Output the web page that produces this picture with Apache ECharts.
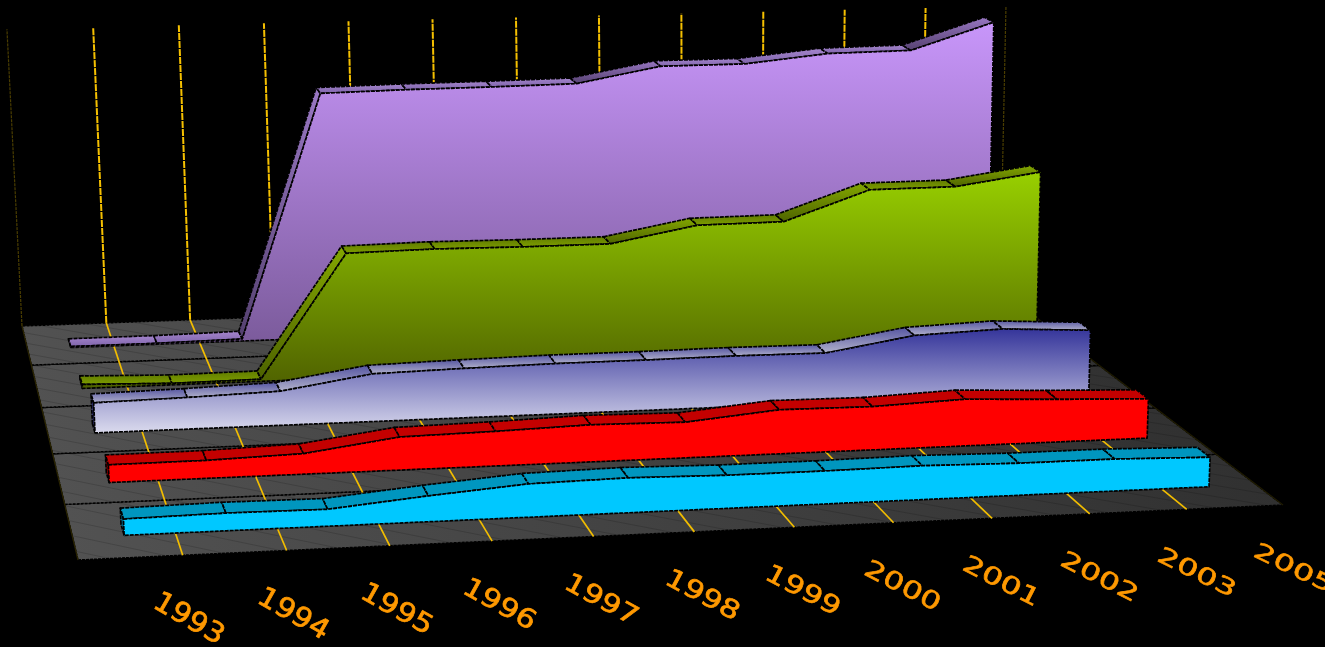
<!DOCTYPE html>
<html><head><meta charset="utf-8">
<style>html,body{margin:0;padding:0;background:#000}#c{width:1325px;height:647px}</style>
<script src="https://cdn.jsdelivr.net/npm/echarts@6/dist/echarts.min.js"></script>
</head><body><div id="c"></div>
<script>
// ---- data ----
const years = ['1993','1994','1995','1996','1997','1998','1999','2000','2001','2002','2003','2005'];
const cyanValues     = [4.7,5.1,4.9,7.5,9.7,10.2,9.7,9.7,10,9.5,9.5,8.8];
const redValues      = [5.3,5.4,6.2,10,10.5,11.3,10.9,13.5,13.3,14.4,13.2,12.2];
const lavenderValues = [9.4,9.9,10.7,15,15.6,16,16,16.2,16,20.5,21.5,20];
const greenValues    = [1.3,0.5,0.7,40.6,41,40.7,40.7,45.8,46,55.5,55.6,59.5];
const purpleValues   = [0.3,0.3,0.7,82,82.4,82.5,82.8,87.8,87.8,90.5,90.8,99.5];

// ---- camera: flat axis space (u, depth, w) -> picture ----
const floorCorners = [[78,560],[1283,505],[1000,290],[22,326]];
const poleTops = [[7,30],[1006,5]];
function camera(){
  const [p0,p1,p2,p3]=floorCorners;
  const dx1=p1[0]-p2[0],dx2=p3[0]-p2[0],sx=p0[0]-p1[0]+p2[0]-p3[0];
  const dy1=p1[1]-p2[1],dy2=p3[1]-p2[1],sy=p0[1]-p1[1]+p2[1]-p3[1];
  const den=dx1*dy2-dx2*dy1;
  const g=(sx*dy2-dx2*sy)/den,h=(dx1*sy-sx*dy1)/den;
  const a=p1[0]-p0[0]+g*p1[0],b=p3[0]-p0[0]+h*p3[0],tx=p0[0];
  const d=p1[1]-p0[1]+g*p1[1],e=p3[1]-p0[1]+h*p3[1],ty=p0[1];
  const A=(u,v,x,nx)=>x*(g*u+h*v+1)-nx;
  const A1=A(0,1,poleTops[0][0],b+tx), A2=A(1,1,poleTops[1][0],a+b+tx);
  const k=(A1-A2)/(poleTops[1][0]-poleTops[0][0]);
  const c=A1+poleTops[0][0]*k;
  const f1=A(0,1,poleTops[0][1],e+ty)+poleTops[0][1]*k;
  const f2=A(1,1,poleTops[1][1],d+e+ty)+poleTops[1][1]*k;
  const f=(f1+f2)/2;
  return (u,v,w)=>{const D=g*u+h*v+k*w+1;return [(a*u+b*v+c*w+tx)/D,(d*u+e*v+f*w+ty)/D];};
}
const project=camera();
const bands=5, boxDepth=0.2;
const boxFronts=[0.39,0.38,0.4,0.4,0.4];
const wallTop=u=>1.004-0.009*u;
const grad=(c1,c2)=>new echarts.graphic.LinearGradient(0,0,0,1,[{offset:0,color:c1},{offset:1,color:c2}]);
const edge={stroke:'#000',lineWidth:1.7,lineDash:[4,1],lineJoin:'round'};
const poly=(points,fill)=>({type:'polygon',shape:{points},style:Object.assign({fill},edge)});
function flat(api,params,i,val){
  const cs=params.coordSys,pt=api.coord([i,val]);
  return [(pt[0]-cs.x)/cs.width,(cs.y+cs.height-pt[1])/cs.height];
}

function backdrop(params,api){
  if(params.dataIndex>0) return;
  const kids=[];
  const fp=(u,v,w)=>project(u,v,w||0);
  for(let b=0;b<bands;b++){
    kids.push({type:'polygon',shape:{points:[fp(0,b/bands),fp(1,b/bands),fp(1,(b+1)/bands),fp(0,(b+1)/bands)]},
      style:{fill:new echarts.graphic.LinearGradient(0,0,1,0,[{offset:0,color:'#525252'},{offset:1,color:'#303030'}]),stroke:'#000',lineWidth:1.5,lineDash:[3,1]}});
  }
  const lines=(a,b,color,w,dash)=>kids.push({type:'line',shape:{x1:a[0],y1:a[1],x2:b[0],y2:b[1]},style:{stroke:color,lineWidth:w,lineDash:dash||null}});
  // faint floor hatch
  for(let t=0.03;t<2.2;t+=0.055){
    const u1=Math.max(0,(t-1)/1.2),u2=Math.min(1,t/1.2);
    if(u2>u1) lines(fp(u1,t-1.2*u1),fp(u2,t-1.2*u2),'rgba(0,0,0,0.15)',1);
  }
  for(let i=1;i<years.length;i++){
    const u=(flat(api,params,i-1,0)[0]+flat(api,params,i,0)[0])/2;
    lines(fp(u,0),fp(u,1),'#f2bd00',1.7);
    lines(fp(u,1),fp(u,1,wallTop(u)),'#f5c000',2,[7,1]);
  }
  lines(fp(0,0),fp(0,1),'#2a2400',1.2);
  lines(fp(1,0),fp(1,1),'#1f1b00',1.2);
  lines(fp(0,1),fp(0,1,wallTop(0)),'#4a3d00',1.2,[3,1]);
  lines(fp(1,1),fp(1,1,wallTop(1)),'#4a3d00',1.2,[3,1]);
  return {type:'group',children:kids};
}

function boxRenderer(values,band,style){
  return function(params,api){
    if(params.dataIndex>0) return;
    const vf=(band+boxFronts[band])/bands, vb=(band+boxFronts[band]+boxDepth)/bands;
    const pts=values.map((val,i)=>flat(api,params,i,val));
    const kids=[];
    const [u0,w0]=pts[0];
    kids.push(poly([project(u0,vb,0),project(u0,vb,w0),project(u0,vf,w0),project(u0,vf,0)],style.cap));
    for(let i=0;i<pts.length-1;i++){
      const [ua,wa]=pts[i],[ub,wb]=pts[i+1];
      const steep=Math.abs(values[i+1]-values[i])>style.steepAt;
      kids.push(poly([project(ua,vb,wa),project(ub,vb,wb),project(ub,vf,wb),project(ua,vf,wa)],steep?style.steep:style.top));
    }
    const top=pts.map(p=>project(p[0],vf,p[1]));
    const base=pts.map(p=>project(p[0],vf,0)).reverse();
    kids.push(poly(top.concat(base),style.front));
    return {type:'group',children:kids};
  };
}
function labelRenderer(params,api){
  const u=flat(api,params,params.dataIndex,0)[0];
  const p=project(u,0,0);
  const t=params.dataIndex/(years.length-1);
  return {type:'text',x:p[0]+58,y:p[1]+62,rotation:-(30-4*t)*Math.PI/180,scaleX:1.08+0.12*t,scaleY:1-0.2*t,
    style:{text:years[params.dataIndex],fill:'#ff9900',stroke:'#ff9900',lineWidth:0.7,fontSize:28,fontFamily:'"DejaVu Sans"',align:'center',verticalAlign:'middle'}};
}
const pairs=v=>v.map((val,i)=>[i,val]);
const boxes=[
 {name:'Purple',values:purpleValues,band:4,style:{cap:'#5c4780',top:grad('#a888d0','#7c62a8'),steep:grad('#9a78c4','#54406f'),steepAt:3,front:grad('#c896fa','#7a5a9a')}},
 {name:'Green',values:greenValues,band:3,style:{cap:'#4a5c00',top:grad('#5f7a00','#7f9f00'),steep:grad('#84a800','#4d6200'),steepAt:3,front:grad('#98d000','#4e6000')}},
 {name:'Lavender',values:lavenderValues,band:2,style:{cap:'#3e3e90',top:grad('#5252a0','#b4b4cc'),steep:grad('#4a4a9c','#b0b0c8'),steepAt:100,front:grad('#34349a','#dcdcee')}},
 {name:'Red',values:redValues,band:1,style:{cap:'#a00000',top:'#c40000',steep:'#c40000',steepAt:100,front:'#ff0000'}},
 {name:'Cyan',values:cyanValues,band:0,style:{cap:'#0078a0',top:'#0096bf',steep:'#0096bf',steepAt:100,front:'#00c8ff'}}
];
const chart=echarts.init(document.getElementById('c'),null,{renderer:'canvas'});
const series=[{type:'custom',z:1,silent:true,data:pairs(years.map(()=>0)),renderItem:backdrop,clip:false}];
boxes.forEach((b,i)=>series.push({type:'custom',name:b.name,z:2+i,silent:true,data:pairs(b.values),renderItem:boxRenderer(b.values,b.band,b.style),clip:false}));
series.push({type:'custom',z:10,silent:true,data:pairs(years.map(()=>0)),renderItem:labelRenderer,clip:false});
chart.setOption({
  animation:false,backgroundColor:'#000',
  grid:{left:0,right:0,top:0,bottom:0},
  xAxis:{type:'category',data:years,show:false,boundaryGap:true},
  yAxis:{type:'value',min:0,max:100,show:false},
  series
});
</script></body></html>
